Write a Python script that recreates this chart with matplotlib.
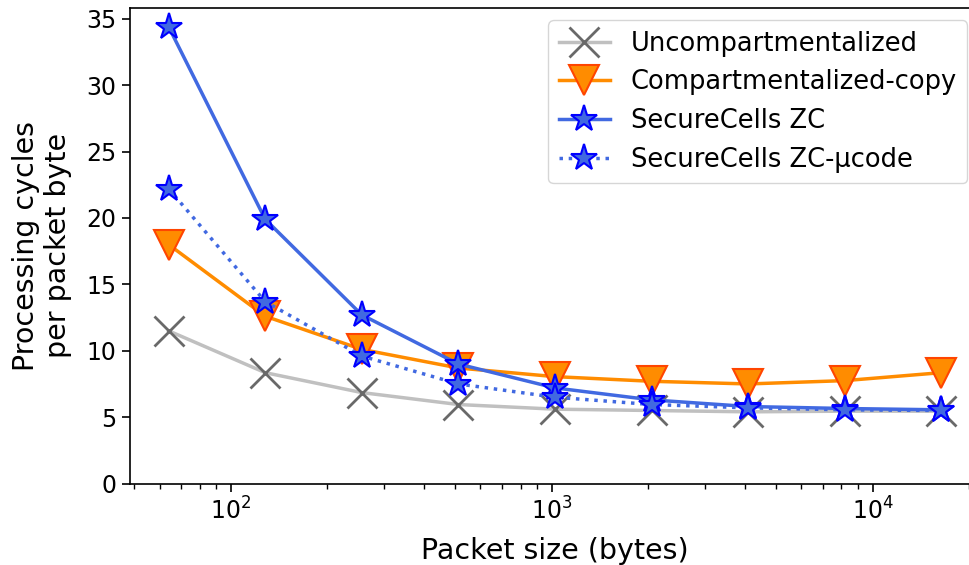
import matplotlib
matplotlib.use("Agg")
import matplotlib.pyplot as plt

# packet sizes in bytes
sizes = [64, 128, 256, 512, 1024, 2048, 4096, 8192, 16384]

uncomp = [11.5, 8.35, 6.85, 5.95, 5.6, 5.5, 5.4, 5.45, 5.45]
comp_copy = [18.0, 12.6, 10.1, 8.7, 8.05, 7.7, 7.5, 7.75, 8.35]
sc_zc = [34.4, 19.9, 12.7, 9.0, 7.2, 6.3, 5.8, 5.65, 5.55]
sc_zc_ucode = [22.2, 13.7, 9.6, 7.5, 6.5, 5.95, 5.7, 5.55, 5.5]

labels = ["Uncompartmentalized", "Compartmentalized-copy",
          "SecureCells ZC", "SecureCells ZC-\u00b5code"]

fig, ax = plt.subplots(figsize=(9.7, 5.65), dpi=100)

ax.plot(sizes, uncomp, color="silver", lw=2.5, marker="x", ms=21,
        mec="dimgray", mew=2, label=labels[0])
ax.plot(sizes, comp_copy, color="darkorange", lw=2.5, marker="v", ms=21,
        mfc="darkorange", mec="orangered", mew=1.5, label=labels[1])
ax.plot(sizes, sc_zc, color="royalblue", lw=2.5, marker="*", ms=20,
        mfc="royalblue", mec="blue", mew=1.5, label=labels[2])
ax.plot(sizes, sc_zc_ucode, color="royalblue", lw=2.5, ls=":", marker="*", ms=20,
        mfc="royalblue", mec="blue", mew=1.5, label=labels[3])

ax.set_xscale("log")
ax.set_ylim(bottom=0)
ax.set_yticks(range(0, 36, 5))
ax.tick_params(labelsize=17)
ax.tick_params(which="major", length=6, width=1.2, pad=4)
ax.tick_params(which="minor", length=3.3, width=1.0)
ax.set_xlabel("Packet size (bytes)", fontsize=20.5, labelpad=9)
ax.set_ylabel("Processing cycles\nper packet byte", fontsize=20.5, labelpad=10)
for s in ax.spines.values():
    s.set_linewidth(1.2)
ax.legend(loc="upper right", fontsize=18.5)

# the original figure is cropped on the right, so the axes run past the edge
fig.subplots_adjust(left=0.134, right=1.0103, bottom=0.1442, top=0.9867)
plt.savefig("out.png")
